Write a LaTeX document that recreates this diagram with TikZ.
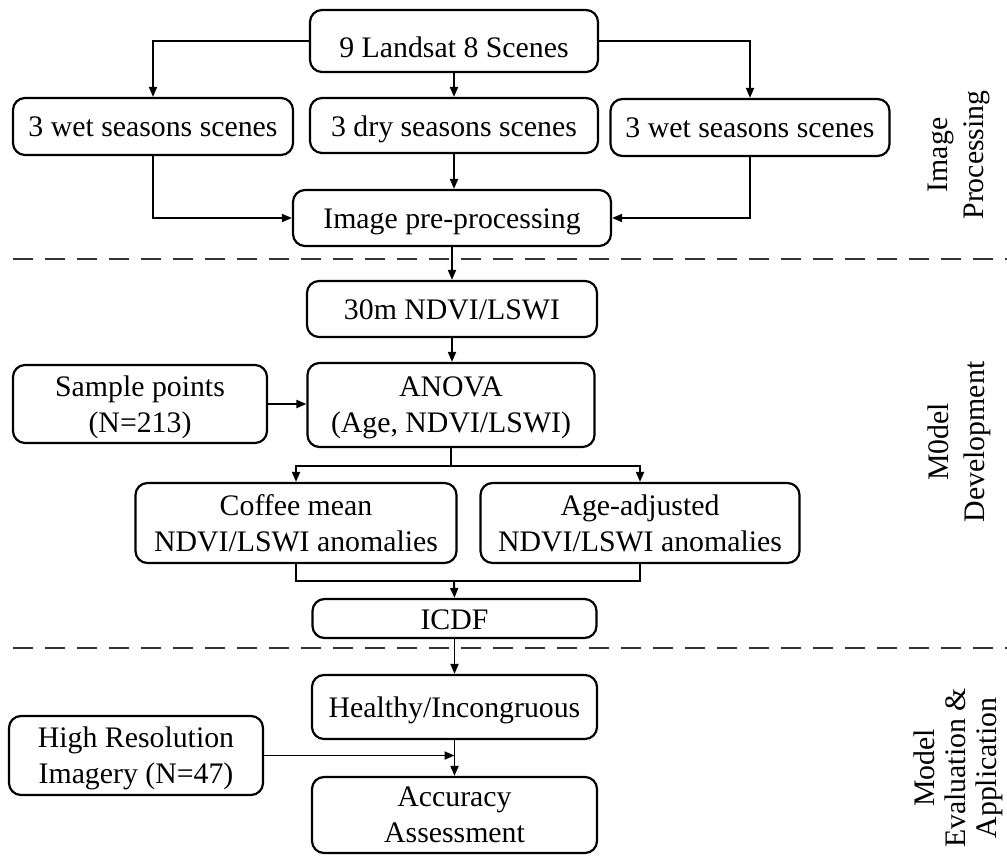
\documentclass[tikz,border=0pt]{standalone}
\usepackage{fontspec}
\setmainfont{Liberation Serif}
\usetikzlibrary{arrows.meta}
\tikzset{
  box/.style={draw=black, line width=2.2pt, rounded corners=12pt, inner sep=0pt,
    align=center, font=\fontsize{29.8}{36}\selectfont, text depth=0pt},
  one/.style={box, text height=20pt, text depth=0pt},
  arr/.style={line width=1.9pt, -{Triangle[length=10pt,width=8pt]}},
  ln/.style={line width=1.9pt},
  sep/.style={line width=2.5pt, draw=black!80, dash pattern=on 20pt off 12pt},
  side/.style={rotate=90, align=center, font=\fontsize{29.8}{36}\selectfont}
}
\begin{document}
\begin{tikzpicture}[x=1pt,y=-1pt]
\useasboundingbox (0,0) rectangle (1007,856);
% nodes
\node[one, text height=33pt, minimum width=288pt, minimum height=62pt] (land) at (454,41) {9 Landsat 8 Scenes};
\node[one, minimum width=280pt, minimum height=57pt] (wetL) at (153,126.5) {3 wet seasons scenes};
\node[one, text height=22pt, minimum width=288pt, minimum height=55pt] (dry) at (454,125.5) {3 dry seasons scenes};
\node[one, minimum width=279pt, minimum height=57pt] (wetR) at (750,127.5) {3 wet seasons scenes};
\node[one, minimum width=318pt, minimum height=56pt] (pre) at (452,218) {Image pre-processing};
\node[one, minimum width=290pt, minimum height=56pt] (ndvi) at (452,309) {30m NDVI/LSWI};
\node[box, minimum width=287pt, minimum height=84pt] (anova) at (451,405) {ANOVA\\(Age, NDVI/LSWI)};
\node[box, minimum width=254pt, minimum height=78pt] (sample) at (140,404) {Sample points\\(N=213)};
\node[box, minimum width=321pt, minimum height=80pt] (coffee) at (296,523) {Coffee mean\\NDVI/LSWI anomalies};
\node[box, minimum width=319pt, minimum height=80pt] (age) at (640,523) {Age-adjusted\\NDVI/LSWI anomalies};
\node[one, text height=22pt, minimum width=284pt, minimum height=39pt] (icdf) at (454.5,618.5) {ICDF};
\node[one, text height=21pt, minimum width=285pt, minimum height=64pt] (healthy) at (454.5,707) {Healthy/Incongruous};
\node[box, minimum width=254pt, minimum height=79pt] (highres) at (136,755.5) {High Resolution\\Imagery (N=47)};
\node[box, minimum width=285pt, minimum height=76pt] (acc) at (454.5,815) {Accuracy\\Assessment};
% side labels
\node[side] (lab1) at (959,155) {Image\\Processing};
\node[side] (lab2) at (959,442) {M0del\\Development};
\node[side, font=\fontsize{29.8}{31}\selectfont] (lab3) at (958,768) {Model\\Evaluation \&\\Application};
% separators
\coordinate (s1a) at (13,259); \coordinate (s1b) at (1007,259);
\coordinate (s2a) at (13,648); \coordinate (s2b) at (1007,648);
\draw[sep] (s1a) -- (s1b);
\draw[sep] (s2a) -- (s2b);
% connectors
\draw[arr] (land.west) -| (wetL.north);
\draw[arr] (land.east) -| (wetR.north);
\draw[arr] (land.south) -- (dry.north);
\draw[arr] (wetL.south) |- (pre.west);
\draw[arr] (wetR.south) |- (pre.east);
\draw[arr] (dry.south) -- (dry.south |- pre.north);
\draw[arr] (pre.south) -- (pre.south |- ndvi.north);
\draw[arr] (ndvi.south) -- (ndvi.south |- anova.north);
\draw[arr] (sample.east) -- (sample.east -| anova.west);
\coordinate (b1) at (451,466);
\draw[ln] (anova.south) -- (b1);
\draw[arr] (b1) -| (coffee.north);
\draw[arr] (b1) -| (age.north);
\coordinate (m1) at (454,581);
\draw[ln] (coffee.south) |- (age.south |- m1) -- (age.south);
\draw[arr] (m1) -- (icdf.north);
\draw[arr] (icdf.south) -- (icdf.south |- healthy.north);
\draw[arr] (healthy.south) -- (healthy.south |- acc.north);
\draw[arr] (highres.east) -- (highres.east -| healthy.south);
\end{tikzpicture}
\end{document}
